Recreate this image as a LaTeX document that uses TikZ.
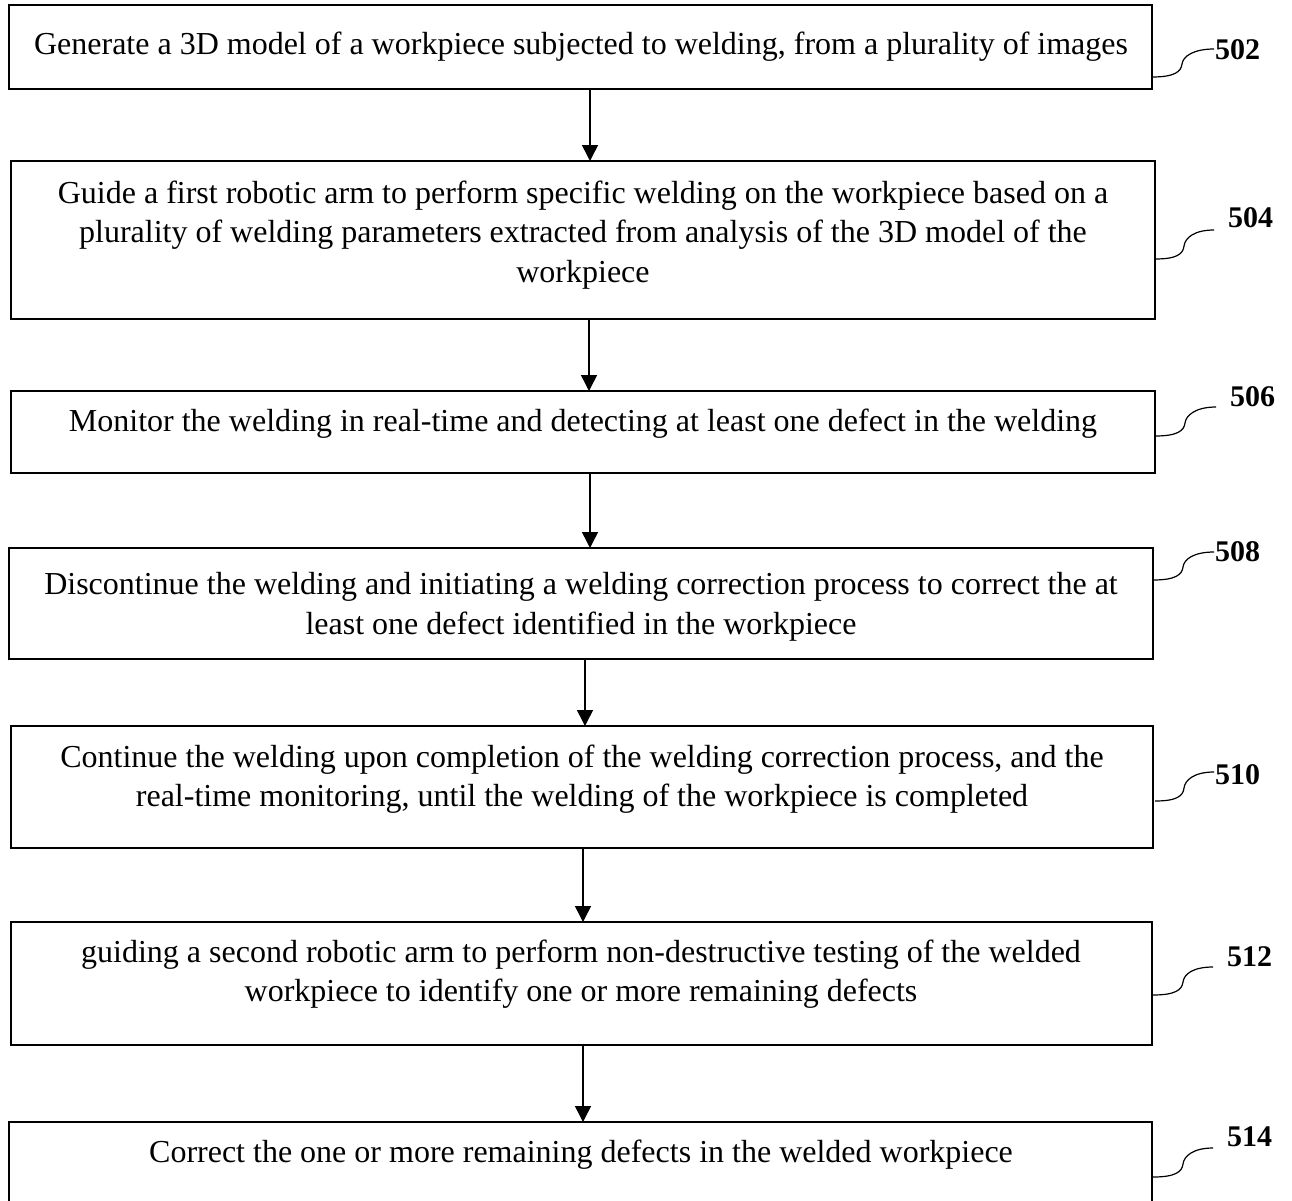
\documentclass[tikz,border=0pt]{standalone}
\usepackage{fontspec}
\setmainfont{Liberation Serif}
\usetikzlibrary{arrows.meta}
\begin{document}
\begin{tikzpicture}[x=1pt,y=-1pt,
  box/.style={draw,line width=2.5pt,inner sep=0pt,outer sep=0pt,fill=none},
  txt/.style={align=center,inner sep=0pt,font=\fontsize{32}{39.5}\selectfont},
  lab/.style={inner sep=0pt,anchor=west,font=\fontsize{30}{32}\selectfont\bfseries},
  arr/.style={line width=1.5pt,-{Triangle[length=16pt,width=16pt]}},
  lead/.style={line width=1.2pt}]
\useasboundingbox (0,0) rectangle (1292,1200);
% boxes
\node[box,minimum width=1143pt,minimum height=84pt] (b1) at (580.5,47) {};
\node[box,minimum width=1144pt,minimum height=158pt] (b2) at (583,240) {};
\node[box,minimum width=1144pt,minimum height=82pt] (b3) at (583,432) {};
\node[box,minimum width=1144pt,minimum height=111pt] (b4) at (581,603.5) {};
\node[box,minimum width=1142pt,minimum height=122pt] (b5) at (582,787) {};
\node[box,minimum width=1141pt,minimum height=123pt] (b6) at (581.5,983.5) {};
\node[box,minimum width=1143pt,minimum height=88pt] (b7) at (580.5,1166) {};
% texts
\node[txt] (t1) at (581,47) {Generate a 3D model of a workpiece subjected to welding, from a plurality of images};
\node[txt] (t2) at (583,235) {Guide a first robotic arm to perform specific welding on the workpiece based on a\\plurality of welding parameters extracted from analysis of the 3D model of the\\workpiece};
\node[txt] (t3) at (583,424) {Monitor the welding in real-time and detecting at least one defect in the welding};
\node[txt] (t4) at (581,607) {Discontinue the welding and initiating a welding correction process to correct the at\\least one defect identified in the workpiece};
\node[txt] (t5) at (582,779) {Continue the welding upon completion of the welding correction process, and the\\real-time monitoring, until the welding of the workpiece is completed};
\node[txt] (t6) at (581,974) {guiding a second robotic arm to perform non-destructive testing of the welded\\workpiece to identify one or more remaining defects};
\node[txt] (t7) at (581,1155) {Correct the one or more remaining defects in the welded workpiece};
% arrows
\draw[arr] ([xshift=9.5pt]b1.south) -- ([xshift=9.5pt]b1.south |- b2.north);
\draw[arr] ([xshift=6pt]b2.south) -- ([xshift=6pt]b2.south |- b3.north);
\draw[arr] ([xshift=7pt]b3.south) -- ([xshift=7pt]b3.south |- b4.north);
\draw[arr] ([xshift=4pt]b4.south) -- ([xshift=4pt]b4.south |- b5.north);
\draw[arr] ([xshift=1pt]b5.south) -- ([xshift=1pt]b5.south |- b6.north);
\draw[arr] ([xshift=1.5pt]b6.south) -- ([xshift=1.5pt]b6.south |- b7.north);
% labels
\node[lab] (n502) at (1215,50) {502};
\node[lab] (n504) at (1228,218) {504};
\node[lab] (n506) at (1230,397) {506};
\node[lab] (n508) at (1215,552) {508};
\node[lab] (n510) at (1215,775) {510};
\node[lab] (n512) at (1227,957) {512};
\node[lab] (n514) at (1227,1137) {514};
% leader coordinates
\coordinate (s1) at (1152,77);  \coordinate (m1) at (1182,64);  \coordinate (e1) at (1214,49);
\coordinate (s2) at (1155,259); \coordinate (m2) at (1184,246); \coordinate (e2) at (1214,230);
\coordinate (s3) at (1155,436); \coordinate (m3) at (1185,423); \coordinate (e3) at (1216,407);
\coordinate (s4) at (1153,580); \coordinate (m4) at (1183,567); \coordinate (e4) at (1214,552);
\coordinate (s5) at (1155,801); \coordinate (m5) at (1184,788); \coordinate (e5) at (1214,772);
\coordinate (s6) at (1153,995); \coordinate (m6) at (1183,982); \coordinate (e6) at (1213,967);
\coordinate (s7) at (1153,1177);\coordinate (m7) at (1183,1164);\coordinate (e7) at (1213,1148);
\foreach \i in {1,...,7}{
  \draw[lead] (s\i) .. controls +(22,0) and +(-1,8) .. (m\i) .. controls +(1,-8) and +(-20,0) .. (e\i);
}
\end{tikzpicture}
\end{document}
